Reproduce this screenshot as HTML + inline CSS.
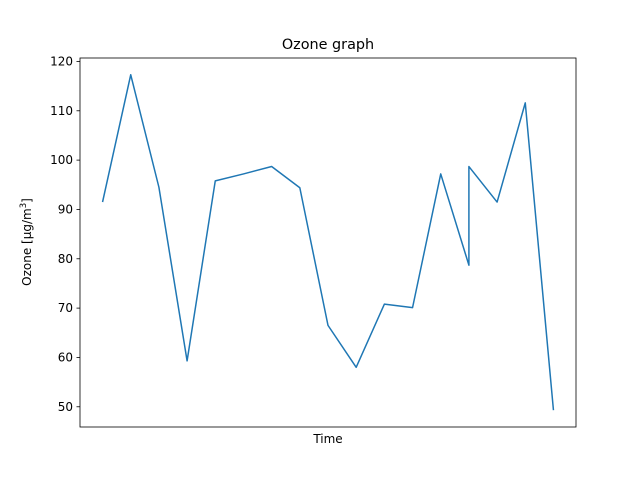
<!DOCTYPE html>
<html><head><meta charset="utf-8"><style>
body{margin:0;background:#fff;}
svg{display:block;font-family:"DejaVu Sans","Liberation Sans",sans-serif;}
</style></head><body>
<svg id="chart" width="640" height="480">
<rect x="0" y="0" width="640" height="480" fill="#fff"/>
<text x="328" y="49" font-size="14.4" text-anchor="middle">Ozone graph</text>
<text x="328" y="443" font-size="12" text-anchor="middle">Time</text>
<text transform="translate(31,242) rotate(-90)" font-size="12" text-anchor="middle">Ozone [µg/m<tspan font-size="8.5" dy="-5">3</tspan><tspan dy="5">]</tspan></text>
<g id="ticks"></g>
<polyline id="line" fill="none" stroke="#1f77b4" stroke-width="1.5" stroke-linejoin="round"/>
<rect x="80" y="58" width="496" height="369" fill="none" stroke="#000" stroke-width="0.8"/>
</svg>
<script>
const timeIndex = [0,1,2,3,4,5,6,7,8,9,10,11,12,13,13,14,15,16];
const ozoneValues = [91.5,117.3,94.5,59.3,95.8,97.2,98.7,94.4,66.5,58.0,70.8,70.1,97.2,78.7,98.7,91.5,111.6,49.3];
const yTickLabels = [50,60,70,80,90,100,110,120];

const L=80,R=576,T=58,B=427;
const xmin=Math.min(...timeIndex),xmax=Math.max(...timeIndex);
const xpad=(xmax-xmin)*0.05;
const ymin=Math.min(...ozoneValues),ymax=Math.max(...ozoneValues);
const ypad=(ymax-ymin)*0.05;
const xs=v=>L+(v-(xmin-xpad))/((xmax+xpad)-(xmin-xpad))*(R-L);
const ys=v=>B-(v-(ymin-ypad))/((ymax+ypad)-(ymin-ypad))*(B-T);

const line=document.getElementById('line');
line.setAttribute('points',timeIndex.map((t,i)=>xs(t).toFixed(2)+','+ys(ozoneValues[i]).toFixed(2)).join(' '));

const g=document.getElementById('ticks');
const NS='http://www.w3.org/2000/svg';
yTickLabels.forEach(v=>{
  const y=ys(v);
  const l=document.createElementNS(NS,'line');
  l.setAttribute('x1',L-3.5);l.setAttribute('x2',L);
  l.setAttribute('y1',y);l.setAttribute('y2',y);
  l.setAttribute('stroke','#000');l.setAttribute('stroke-width','0.8');
  
  
  g.appendChild(l);
  const t=document.createElementNS(NS,'text');
  t.setAttribute('x',L-7);t.setAttribute('y',y+4);
  t.setAttribute('font-size','12');t.setAttribute('text-anchor','end');
  t.textContent=v;
  
  
  g.appendChild(t);
});
</script>
</body></html>
